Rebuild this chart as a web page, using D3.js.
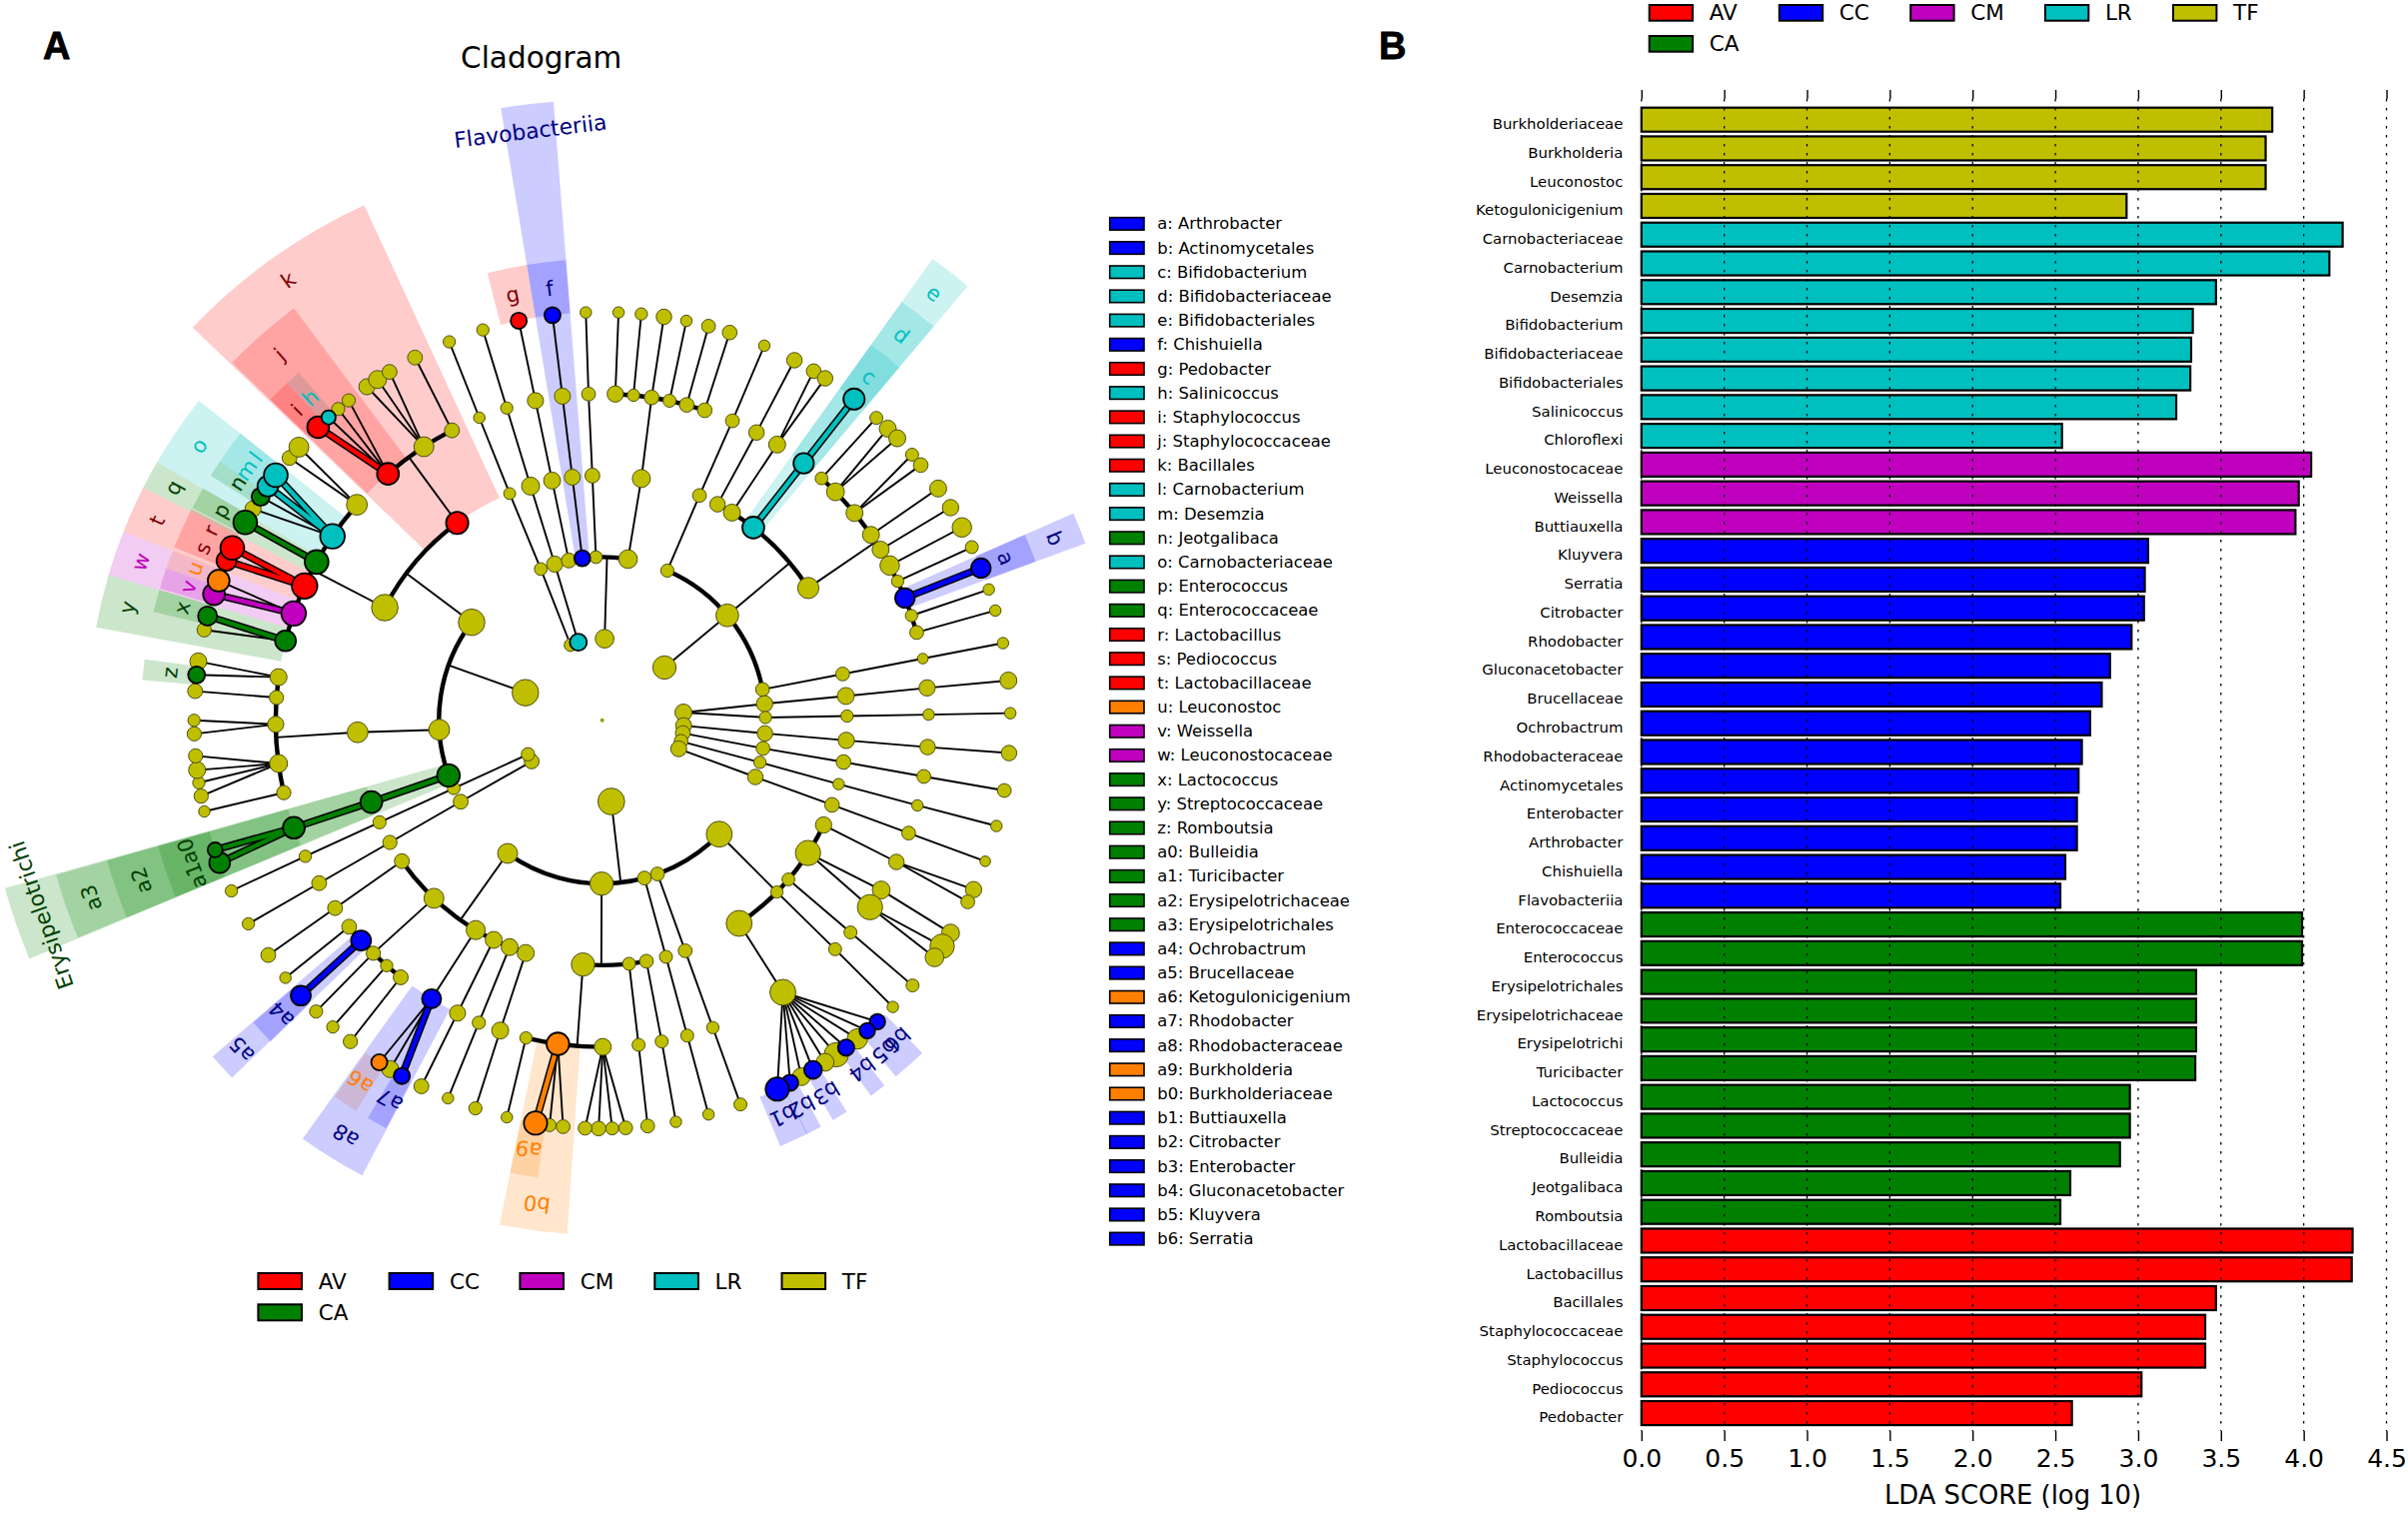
<!DOCTYPE html>
<html><head><meta charset="utf-8">
<script src="https://cdn.jsdelivr.net/npm/d3@7"></script>
<style>html,body{margin:0;padding:0;background:#fff}svg{display:block}text{font-family:"DejaVu Sans",sans-serif}</style>
</head><body><svg id="c" width="2410" height="1514"></svg>
<script>
// ---------- groups ----------
const groupNames = ["AV","CC","CM","LR","TF","CA"];
const groupColors = {AV:"#ff0000",CC:"#0000ff",CM:"#bf00bf",LR:"#00bfbf",TF:"#bfbf00",CA:"#008000",OR:"#ff8000"};
const labelColors = {AV:"#7f0000",CC:"#00007f",CM:"#bf00bf",LR:"#00bfbf",CA:"#003f00",OR:"#ff8000"};

// ---------- cladogram taxa: [angle deg, abundance, group, parent angle on previous level] ----------
const T="TF",R="AV",B="CC",M="CM",C="LR",G="CA",O="OR";
const level1 = [[-22.8,6,T],[-17,8,C],[1.7,8.8,T],[49.7,11,T],[84.5,8,T],[93.7,7.5,T],[99,7,T],[104.9,6.5,T],[110.4,7.5,T],[173.6,12.6,T],[239.8,7,T],[245.4,6.3,T],[289.8,12.5,T]];
const level2 = [[-22.1,6,T,-22.8],[-16.9,7.6,T,-17],[-11.8,7,T],[-7,7.5,B],[-2.2,6,T],[9.1,8.8,T],
 [23.5,6.2,T],[50,10.7,T],[79.1,6.5,T],[84.2,7.7,T,84.5],[89,5.8,T,84.5],[94.6,7.3,T,93.7],[99.9,6.5,T,99],[104.9,5.8,T,104.9],[110.3,7.3,T,110.4],
 [134.2,12.2,T],[160.2,6.5,T],[165,6.5,T],[180.2,11,T],[215.4,9.4,T],
 [240.1,7,T,239.8],[245.4,6,T,245.4],[250.3,10.7,G],[266.7,9.8,T],[306.9,12.5,T]];
const level3 = [[-22.2,5.6,T,-22.1],[-17,8.5,T,-16.9],[-11.8,8,T,-11.8],[-7,7.5,T,-7],[-2.3,7,T,-2.2],[9.2,8.5,T,9.1],
 [23.4,6.5,T,23.5],[28.1,7.3,T],[32,8,T],[38.1,10.3,C],[57.3,10,T],
 [79.1,6.5,T,79.1],[84.3,8,T,84.2],[89,5.8,T,89],[94.7,7.7,T,94.6],[99.8,6.9,T,99.9],[105.1,5.4,T,104.9],[110.2,6.9,T,110.3],
 [115.3,7.7,T],[122.8,11.9,T],[130.5,6,T],[134.5,5.8,T],[146,12.2,T],
 [160.2,6.5,T,160.2],[164.9,6.1,T,165],[169.6,6.5,T],[173.7,6.1,T],[184.5,11,T],
 [198.2,8,T],[202.2,8,T],[206.3,8,T],[211.1,9,T],[223.4,9.4,T],[234.9,7,T],
 [240.1,6.7,T,240.1],[245.4,6.2,T,245.4],[250.5,10.3,G,250.3],[267.2,9.8,T,266.7],[297.4,12.5,T],[323.7,10.5,R]];
const level4 = [[-22.1,5.4,T,-22.2],[-17,5.8,T,-17],[-11.8,7.6,T,-11.8],[-7,7.6,T,-7],[-2.4,6.5,T,-2.3],
 [2.3,7.7,T],[5.5,5.8,T],[8.7,6.9,T],[11.9,6.1,T],[15,6.9,T],[18.3,6.9,T],
 [23.5,6.5,T,23.4],[28.2,7.3,T,28.1],[32.4,8,T,32],[38.1,9.6,C,38.1],
 [42.2,6,T],[45.6,8.4,T],[50.6,8,T],[55.4,8,T],[58.5,8,T],[61.7,9.2,T],[64.8,5.8,T],[68,9.2,B],[71.3,5.8,T],[74.4,6.5,T],
 [79.1,5,T,79.1],[84.3,7.7,T,84.3],[89,5.4,T,89],[94.7,7.3,T,94.7],[99.9,6.5,T,99.8],[105.1,5.4,T,105.1],[110.2,6.5,T,110.2],
 [115.7,7.3,T,115.3],[121.3,8.4,T,122.8],[124.9,11.9,T,122.8],[130.5,6.1,T,130.5],[134.5,6.1,T,134.5],[146.4,12.2,T,146],
 [160.2,5.8,T,160.2],[164.9,6.1,T,164.9],[169.5,6.1,T,169.6],[173.6,6.1,T,173.7],
 [179.9,8,T],[187.8,10.7,O],[193.5,5.8,T],
 [198.2,8,T,198.2],[202.2,6.2,T,202.2],[206.3,7.6,T,206.3],[211.5,9,B,211.1],
 [218.1,7,T],[221.3,5.8,T],[224.5,6.7,T],[227.6,9.4,B],[230.8,7,T],
 [234.9,7,T,234.9],[240.1,7,T,240.1],[245.4,5.8,T,245.4],[250.8,10.3,G,250.5],
 [257.2,6.7,T],[262.4,8.5,T],[269.3,7.6,T],[274,6.7,T],[277.6,8,T],
 [284.1,9.8,G],[289.1,11.6,M],[294.3,12,R],[299,11.2,G],[304.3,11.6,C],[311.3,9.8,T],
 [319,10.3,R],[326.9,9.4,T],[332.6,7,T]];
const level5 = [[-22,5.8,T,-22.1],[-17,5.8,T,-17],[-11.8,7.6,R,-11.8],[-7,7.6,B,-7],[-2.3,5.4,T,-2.4],
 [2.3,5.4,T,2.3],[5.5,5.8,T,5.5],[8.7,7.3,T,8.7],[11.9,5.4,T,11.9],[15.1,6.5,T,15],[18.2,6.9,T,18.3],
 [23.4,5.4,T,23.5],[28.1,7.3,T,28.2],[31.2,6.9,T,32.4],[33.1,7.3,T,32.4],[38.1,10,C,38.1],
 [42.2,6.1,T,42.2],[44.4,8,T,45.6],[46.3,8,T,45.6],[49.4,6.1,T,50.6],[51.3,6.9,T,50.6],[55.4,8,T,55.4],[58.6,7.7,T,58.5],[61.8,9.2,T,61.7],[64.9,6.1,T,64.8],[68.1,9.2,B,68],[71.3,5.4,T,71.3],[74.4,5.4,T,74.4],
 [79.1,5.4,T,79.1],[84.4,8,T,84.3],[89,5.4,T,89],[94.6,7.3,T,94.7],[99.9,6.5,T,99.9],[105,5.4,T,105.1],[110.2,5,T,110.2],
 [114.5,7.7,T,115.7],[116.4,6.5,T,115.7],[121.4,8.4,T,121.3],[123.6,11.5,T,124.9],[125.5,8.8,T,124.9],[130.5,6.1,T,130.5],[134.6,5.4,T,134.5],
 [137.6,7.3,B,146.4],[139.5,7.3,B,146.4],[141.3,9.6,T,146.4],[143.3,7.7,B,146.4],[145,11.5,T,146.4],[146.9,8.4,T,146.4],[148.9,8.4,B,146.4],[150.8,8.4,T,146.4],[152.6,7.7,B,146.4],[154.6,11,B,146.4],
 [160.2,6.1,T,160.2],[164.9,5.4,T,164.9],[169.6,5.4,T,169.5],[173.6,6.5,T,173.6],
 [176.7,6.5,T,179.9],[178.6,6.1,T,179.9],[180.5,6.9,T,179.9],[182.4,6.5,T,179.9],
 [185.5,6.5,T,187.8],[187.4,6.1,T,187.8],[189.4,11,O,187.8],[193.5,5.4,T,193.5],
 [198.1,6.2,T,198.2],[202.2,5.4,T,202.2],[206.3,7,T,206.3],
 [209.4,7.6,B,211.5],[211.3,8,T,211.5],[213.1,7.6,O,211.5],
 [218.1,6.7,T,218.1],[221.3,5.8,T,221.3],[224.5,6.2,T,224.5],[227.6,9.4,B,227.6],[230.9,5.4,T,230.8],
 [234.9,7,T,234.9],[240.1,5.8,T,240.1],[245.3,5.8,T,245.4],
 [249.6,9.8,G,250.8],[251.5,7,G,250.8],
 [257.1,5.4,T,257.2],[259.3,6.7,T,262.4],[261.2,5.8,T,262.4],[263,8,T,262.4],[265,6.7,T,262.4],
 [268.1,6.7,T,269.3],[270,5.8,T,269.3],[274.1,7,T,274],[276.4,8,G,277.6],[278.3,8,T,277.6],
 [282.8,6.7,T,284.1],[284.8,9,G,284.1],[288,10.3,M,289.1],[290,10.3,O,289.1],[293,9.4,R,294.3],[295,11.2,R,294.3],[299,11.2,G,299],
 [301.2,7.6,T,304.3],[303.2,8.5,G,304.3],[305,9.8,C,304.3],[306.9,11.2,C,304.3],[310,7,T,311.3],[312,9.4,T,311.3],
 [315.9,10.3,R,319],[317.9,6.7,C,319],[319.7,6.2,T,319],[321.6,6.2,T,319],[324.8,7.6,T,326.9],[326.6,8.5,T,326.9],[328.6,7,T,326.9],[332.7,7,T,332.6]];
const taxonLevels = [level1,level2,level3,level4,level5];

// ---------- sibling arcs: [level, from angle, to angle, parent angle, junction angle] ----------
const siblingArcs = [[2,-11.8,9.1,1.7,1.7],[2,23.5,79.1,49.7,50],[2,134.2,215.4,173.6,173.5],[2,250.3,306.9,289.8,289.7],
 [3,28.1,57.3,50,50],[3,115.3,146,134.2,134.5],[3,169.6,184.5,180.2,180.2],[3,198.2,234.9,215.4,215.4],[3,297.4,323.7,306.9,306.9],
 [4,2.3,18.3,9.2,8.7],[4,42.2,74.4,57.3,56.9],[4,179.9,193.5,184.5,184.4],[4,218.1,230.8,223.4,224.5],[4,257.2,277.6,267.2,267],[4,284.1,311.3,297.4,297.4],[4,319,332.6,323.7,323.7]];

// ---------- highlighted clades: [label, from angle, to angle, level, group] ----------
const cladeHighlights = [["a",66.3,69.9,5,B],["b",66.3,69.9,4,B],["c",35.6,40.1,5,C],["d",35.6,40.1,4,C],["e",35.6,40.1,3,C],
 ["f",-9.4,-4.5,5,B],["Flavobacteriia",-9.4,-4.5,2,B],["g",-14.4,-9.4,5,R],["i",314,316.9,5,R],["h",316.9,318.9,5,C],["j",314,323.2,4,R],["k",313.8,335.2,3,R],
 ["l",306.2,308.4,5,C],["m",304.1,306.2,5,C],["n",302,304.1,5,G],["o",300.1,308.4,4,C],["p",297.4,300.2,5,G],["q",296.9,300.1,4,G],
 ["r",294.6,297.2,5,R],["s",292,294.6,5,R],["t",291.5,296.9,4,R],["u",289.2,291.6,5,O],["v",286.6,289.2,5,M],["w",286.4,291.5,4,M],
 ["x",283.6,286.4,5,G],["y",280.4,286.4,4,G],["z",275,277.6,5,G],
 ["a0",250.7,254.2,5,G],["a1",247.5,250.7,5,G],["a2",247.5,254.2,4,G],["a3",247.5,254.2,3,G],["Erysipelotrichi",247.4,254.3,2,G],
 ["a4",225.9,229.1,5,B],["a5",226,229.2,4,B],["a6",212.2,215.4,5,O],["a7",207.9,210.5,5,B],["a8",207.8,215.6,4,B],["a9",188,191.5,5,O],["b0",183.9,191.5,4,O],
 ["b1",153.6,157.3,5,B],["b2",151.7,153.7,5,B],["b3",148,150,5,B],["b4",142.3,144.4,5,B],["b5",138.5,140.5,5,B],["b6",136.1,138.5,5,B]];

// ---------- cladogram key ----------
const keyLabels = ["a: Arthrobacter","b: Actinomycetales","c: Bifidobacterium","d: Bifidobacteriaceae","e: Bifidobacteriales","f: Chishuiella","g: Pedobacter","h: Salinicoccus","i: Staphylococcus","j: Staphylococcaceae","k: Bacillales","l: Carnobacterium","m: Desemzia","n: Jeotgalibaca","o: Carnobacteriaceae","p: Enterococcus","q: Enterococcaceae","r: Lactobacillus","s: Pediococcus","t: Lactobacillaceae","u: Leuconostoc","v: Weissella","w: Leuconostocaceae","x: Lactococcus","y: Streptococcaceae","z: Romboutsia","a0: Bulleidia","a1: Turicibacter","a2: Erysipelotrichaceae","a3: Erysipelotrichales","a4: Ochrobactrum","a5: Brucellaceae","a6: Ketogulonicigenium","a7: Rhodobacter","a8: Rhodobacteraceae","a9: Burkholderia","b0: Burkholderiaceae","b1: Buttiauxella","b2: Citrobacter","b3: Enterobacter","b4: Gluconacetobacter","b5: Kluyvera","b6: Serratia"];
const keyGroups = [B,B,C,C,C,B,R,C,R,R,R,C,C,G,C,G,G,R,R,R,O,M,M,G,G,G,G,G,G,G,B,B,O,B,B,O,O,B,B,B,B,B,B];

// ---------- LDA bars ----------
const barTaxa = ["Burkholderiaceae","Burkholderia","Leuconostoc","Ketogulonicigenium","Carnobacteriaceae","Carnobacterium","Desemzia","Bifidobacterium","Bifidobacteriaceae","Bifidobacteriales","Salinicoccus","Chloroflexi","Leuconostocaceae","Weissella","Buttiauxella","Kluyvera","Serratia","Citrobacter","Rhodobacter","Gluconacetobacter","Brucellaceae","Ochrobactrum","Rhodobacteraceae","Actinomycetales","Enterobacter","Arthrobacter","Chishuiella","Flavobacteriia","Enterococcaceae","Enterococcus","Erysipelotrichales","Erysipelotrichaceae","Erysipelotrichi","Turicibacter","Lactococcus","Streptococcaceae","Bulleidia","Jeotgalibaca","Romboutsia","Lactobacillaceae","Lactobacillus","Bacillales","Staphylococcaceae","Staphylococcus","Pediococcus","Pedobacter"];
const barScores = [3.81,3.77,3.77,2.93,4.235,4.155,3.47,3.33,3.32,3.315,3.23,2.54,4.045,3.97,3.95,3.06,3.04,3.035,2.96,2.83,2.78,2.71,2.66,2.64,2.63,2.63,2.56,2.53,3.99,3.99,3.35,3.35,3.35,3.345,2.95,2.95,2.89,2.59,2.53,4.295,4.29,3.47,3.405,3.405,3.02,2.6];
const barGroups = [T,T,T,T,C,C,C,C,C,C,C,C,M,M,M,B,B,B,B,B,B,B,B,B,B,B,B,B,G,G,G,G,G,G,G,G,G,G,G,R,R,R,R,R,R,R];
const scoreTicks = [0,0.5,1,1.5,2,2.5,3,3.5,4,4.5];

// ---------- drawing ----------
const svg = d3.select("#c");
svg.append("rect").attr("width",2410).attr("height",1514).attr("fill","#fff");

const clado = svg.append("g").attr("transform","translate(602.7,720.8)");
const levelR = d3.scaleLinear().domain([0,5]).range([0,408.5]);
const bandOuter = d3.scaleLinear().domain([5,2]).range([462,621]);
const rad = d3.scaleLinear().domain([0,360]).range([0,2*Math.PI]);
const nodeR = d3.scaleLinear().domain([0,10]).range([0,10.6]);
const pos = (a,l)=>d3.pointRadial(rad(a),levelR(l));

// wedges
const arcGen = d3.arc();
clado.append("g").selectAll("path").data(cladeHighlights).join("path")
  .attr("d",d=>arcGen({innerRadius:levelR(d[3]),outerRadius:bandOuter(d[3]),startAngle:rad(d[1]),endAngle:rad(d[2])}))
  .attr("fill",d=>groupColors[d[4]]).attr("fill-opacity",0.2);

// nodes
const nodes = [];
const index = new Map();
taxonLevels.forEach((rows,i)=>rows.forEach(r=>{
  const n={level:i+1,angle:r[0],size:r[1],group:r[2],parent:r[3]};
  nodes.push(n); index.set(n.level+"|"+n.angle,n);
}));
nodes.forEach(n=>{n.up = n.parent===undefined?null:index.get((n.level-1)+"|"+n.parent);});

// arcs + junction stems
const edges = clado.append("g").attr("fill","none").attr("stroke","#000");
siblingArcs.forEach(a=>{
  const r=levelR(a[0]);
  edges.append("path").attr("d",arcGen({innerRadius:r,outerRadius:r,startAngle:rad(a[1]),endAngle:rad(a[2])})).attr("stroke-width",4.4);
  const p0=pos(a[3],a[0]-1),p1=pos(a[4],a[0]);
  edges.append("line").attr("x1",p0[0]).attr("y1",p0[1]).attr("x2",p1[0]).attr("y2",p1[1]).attr("stroke-width",1.9);
});
const linked = nodes.filter(n=>n.up);
const isThick = n=>n.group!==T && n.group===n.up.group;
edges.selectAll("line.t").data(linked.filter(n=>!isThick(n))).join("line").attr("class","t")
  .attr("x1",n=>pos(n.up.angle,n.up.level)[0]).attr("y1",n=>pos(n.up.angle,n.up.level)[1])
  .attr("x2",n=>pos(n.angle,n.level)[0]).attr("y2",n=>pos(n.angle,n.level)[1]).attr("stroke-width",1.9);
const thick = linked.filter(isThick);
edges.selectAll("line.o").data(thick).join("line").attr("class","o")
  .attr("x1",n=>pos(n.up.angle,n.up.level)[0]).attr("y1",n=>pos(n.up.angle,n.up.level)[1])
  .attr("x2",n=>pos(n.angle,n.level)[0]).attr("y2",n=>pos(n.angle,n.level)[1]).attr("stroke-width",7.5);
edges.selectAll("line.c").data(thick).join("line").attr("class","c")
  .attr("x1",n=>pos(n.up.angle,n.up.level)[0]).attr("y1",n=>pos(n.up.angle,n.up.level)[1])
  .attr("x2",n=>pos(n.angle,n.level)[0]).attr("y2",n=>pos(n.angle,n.level)[1]).attr("stroke",n=>groupColors[n.group]).attr("stroke-width",4.5);

const ordered = nodes.filter(n=>n.group===T).concat(nodes.filter(n=>n.group!==T));
clado.append("g").selectAll("circle").data(ordered).join("circle")
  .attr("cx",n=>pos(n.angle,n.level)[0]).attr("cy",n=>pos(n.angle,n.level)[1]).attr("r",n=>nodeR(n.size))
  .attr("fill",n=>groupColors[n.group]).attr("stroke",n=>n.group===T?"#4f4f10":"#000").attr("stroke-width",n=>n.group===T?1:1.8);
clado.append("circle").attr("r",2).attr("fill","#9a9a10");

// wedge labels
clado.append("g").selectAll("text").data(cladeHighlights).join("text")
  .attr("transform",d=>{const m=(d[1]+d[2])/2,p=d3.pointRadial(rad(m),bandOuter(d[3])-27);return `translate(${p[0]},${p[1]}) rotate(${m})`;})
  .attr("text-anchor","middle").attr("dominant-baseline","central").attr("font-size",d=>d[0].length>2?21.8:21)
  .attr("fill",d=>labelColors[d[4]]).text(d=>d[0]);

svg.append("text").attr("x",541.7).attr("y",68).attr("text-anchor","middle").attr("font-size",29.5).text("Cladogram");
const panelFont='"Liberation Sans",sans-serif';
svg.append("text").attr("x",43).attr("y",59).attr("font-size",38).attr("font-weight",700).attr("stroke","#000").attr("stroke-width",0.8).style("font-family",panelFont).text("A");
svg.append("text").attr("x",1380).attr("y",58.5).attr("font-size",38).attr("font-weight",700).attr("stroke","#000").attr("stroke-width",0.8).style("font-family",panelFont).text("B");

function groupLegend(g,cols,textOffset,rowY,sw,sh,fs){
  groupNames.forEach((n,i)=>{
    const cx=i<5?cols[i]:cols[0], y=i<5?rowY[0]:rowY[1];
    g.append("rect").attr("x",cx).attr("y",y).attr("width",sw).attr("height",sh).attr("fill",groupColors[n]).attr("stroke","#000").attr("stroke-width",2);
    g.append("text").attr("x",cx+textOffset).attr("y",y+sh/2).attr("dominant-baseline","central").attr("font-size",fs).text(n);
  });
}
groupLegend(svg.append("g"),[258.4,389.6,520.4,655.3,782.5],60.3,[1274,1305.3],43.6,16,21.5);
groupLegend(svg.append("g"),[1650.7,1780.8,1912.2,2046.9,2175],60,[5,36],43.4,15.7,21.5);

const keyY = d3.scaleLinear().domain([0,keyLabels.length-1]).range([223.9,1239.6]);
const key = svg.append("g");
key.selectAll("rect").data(keyLabels).join("rect").attr("x",1110.7).attr("width",34.3).attr("height",12.5)
  .attr("y",(d,i)=>keyY(i)-6.25).attr("fill",(d,i)=>groupColors[keyGroups[i]]).attr("stroke","#000").attr("stroke-width",1.6);
key.selectAll("text").data(keyLabels).join("text").attr("x",1158.3).attr("y",(d,i)=>keyY(i)).attr("dominant-baseline","central").attr("font-size",16.4).text(d=>d);

// bar panel
const x = d3.scaleLinear().domain([0,4.5]).range([1642.8,2388.5]);
const step = 28.76;
const y = d3.scaleBand().domain(barTaxa).range([105.4,105.4+step*barTaxa.length]).paddingInner(0.165).paddingOuter(0.08);
const bars = svg.append("g");
bars.selectAll("rect").data(barTaxa).join("rect").attr("x",x(0)).attr("y",d=>y(d)).attr("height",y.bandwidth())
  .attr("width",(d,i)=>x(barScores[i])-x(0)).attr("fill",(d,i)=>groupColors[barGroups[i]]).attr("stroke","#000").attr("stroke-width",2.2);

const grid = svg.append("g");
grid.selectAll("line").data(scoreTicks).join("line").attr("x1",d=>x(d)).attr("x2",d=>x(d)).attr("y1",99).attr("y2",1432)
  .attr("stroke","#000").attr("stroke-width",1.3).attr("stroke-dasharray","2.5,6.5");

const topAxis = svg.append("g").attr("transform","translate(0,99)").call(d3.axisTop(x).tickValues(scoreTicks).tickSize(9).tickFormat(""));
topAxis.select(".domain").remove(); topAxis.selectAll("line").attr("stroke-width",1.4);
const bottomAxis = svg.append("g").attr("transform","translate(0,1432)").call(d3.axisBottom(x).tickValues(scoreTicks).tickSize(10).tickPadding(8).tickFormat(d3.format(".1f")));
bottomAxis.select(".domain").remove(); bottomAxis.selectAll("line").attr("stroke-width",1.4);
bottomAxis.selectAll("text").attr("font-size",25).attr("fill","#000").style("font-family",'"DejaVu Sans"');

const leftAxis = svg.append("g").attr("transform","translate(1624.4,4.5)").call(d3.axisLeft(y).tickSize(0).tickPadding(0));
leftAxis.select(".domain").remove();
leftAxis.selectAll("text").attr("font-size",14.9).attr("fill","#000").style("font-family",'"DejaVu Sans"');

svg.append("text").attr("x",2014.5).attr("y",1505).attr("text-anchor","middle").attr("font-size",25.8).text("LDA SCORE (log 10)");
</script></body></html>
